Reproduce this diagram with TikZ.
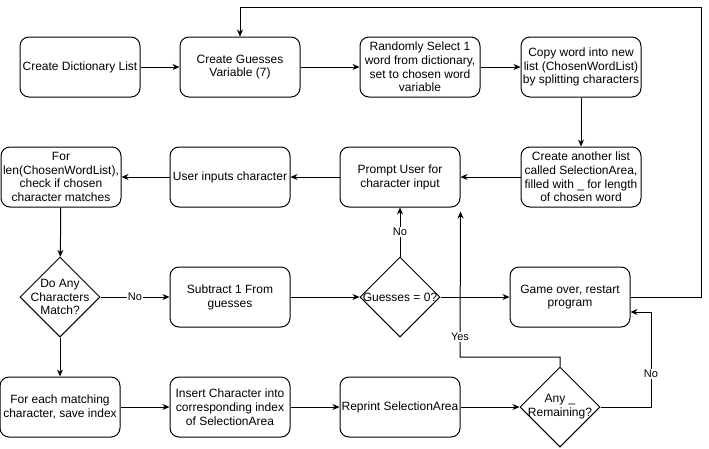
\documentclass[tikz,border=0pt]{standalone}
\usepackage{fontspec}
\setmainfont{Liberation Sans}
\usetikzlibrary{arrows.meta,shapes.geometric}
\begin{document}
\begin{tikzpicture}[x=1pt,y=-1pt,
 box/.style={draw, rounded corners=9pt, minimum width=120pt, minimum height=60pt, inner sep=0pt, align=center, font=\fontsize{12}{13.8}\selectfont, line width=1pt},
 dia/.style={draw, diamond, minimum width=80pt, minimum height=80pt, inner sep=0pt, line width=1pt},
 dtext/.style={align=center, inner sep=0pt, font=\fontsize{12}{13.8}\selectfont},
 arr/.style={draw, line width=1pt, -{Stealth[length=7pt,width=6pt]}},
 ln/.style={draw, line width=1pt},
 lab/.style={fill=white, inner sep=1pt, font=\fontsize{11}{13}\selectfont}]
\useasboundingbox (0,0) rectangle (709,448);
% row 1
\node[box] (A) at (80,67) {Create Dictionary List};
\node[box] (B) at (240,67) {Create Guesses\\Variable (7)};
\node[box] (C) at (420,67) {Randomly Select 1\\word from dictionary,\\set to chosen word\\variable};
\node[box] (D) at (581,67) {Copy word into new\\list (ChosenWordList)\\by splitting characters};
% row 2
\node[box] (E) at (61,177) {For\\len(ChosenWordList),\\check if chosen\\character matches};
\node[box] (F) at (230,177) {User inputs character};
\node[box] (G) at (400,177) {Prompt User for\\character input};
\node[box] (H) at (581,177) {Create another list\\called SelectionArea,\\filled with \_ for length\\of chosen word};
% row 3
\node[dia] (d1) at (60,297) {};
\node[dtext] (t1) at (d1) {Do Any\\Characters\\Match?};
\node[box] (I) at (230,297) {Subtract 1 From\\guesses};
\node[dia] (d2) at (400,297) {};
\node[dtext] (t2) at (d2) {Guesses = 0?};
\node[box] (J) at (570,297) {Game over, restart\\program};
% row 4
\node[box] (K) at (60,407) {For each matching\\character, save index};
\node[box] (L) at (230,407) {Insert Character into\\corresponding index\\of SelectionArea};
\node[box] (M) at (400,407) {Reprint SelectionArea};
\node[dia] (d3) at (560,407) {};
\node[dtext] (t3) at (d3) {Any \_\\Remaining?};
% connectors
\draw[arr] (A) -- (B);
\draw[arr] (B) -- (C);
\draw[arr] (C) -- (D);
\draw[arr] (D) -- (H);
\draw[arr] (H) -- (G);
\draw[arr] (G) -- (F);
\draw[arr] (F) -- (E);
\draw[arr] (E) -- (d1);
\draw[arr] (d1) -- node[lab] (n1) {No} (I);
\draw[arr] (I) -- (d2);
\draw[arr] (d2) -- (J);
\draw[arr] (d2) -- node[lab] (n2) {No} (G);
\draw[arr] (d1) -- (K);
\draw[arr] (K) -- (L);
\draw[arr] (L) -- (M);
\draw[arr] (M) -- (d3);
\draw[arr] (d3.north) -- (560,357) -- (460,357) -- ([yshift=-4pt]G.south east);
\node[lab] (y1) at (460,337) {Yes};
\draw[arr] (d3.east) -- (651,407) -- (651,312) -- ([yshift=-15pt]J.east);
\node[lab] (n3) at (651,374) {No};
\draw[arr] (J.east) -| (701,7) -| (B.north);
\end{tikzpicture}
\end{document}
